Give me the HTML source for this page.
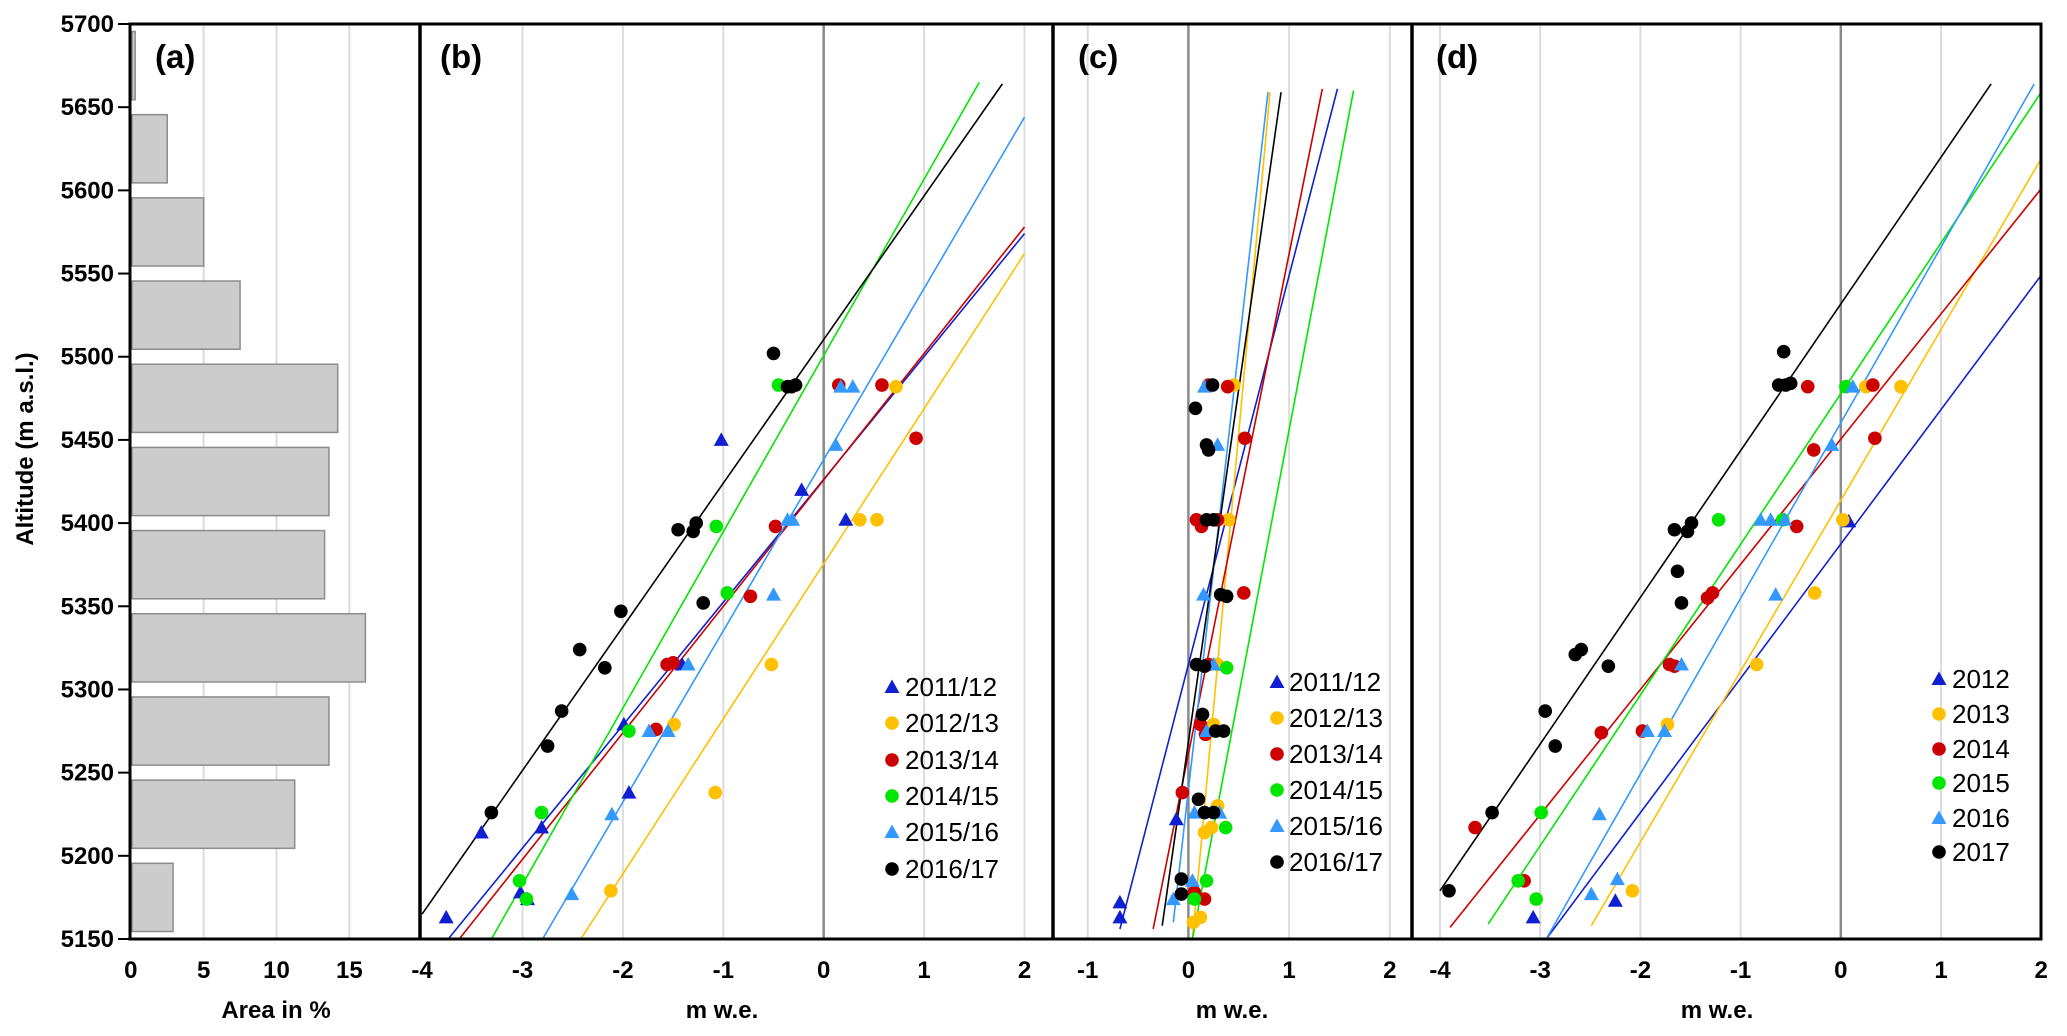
<!DOCTYPE html>
<html><head><meta charset="utf-8">
<style>
html,body{margin:0;padding:0;background:#fff;}
svg{display:block;font-family:"Liberation Sans",Arial,sans-serif;}
</style></head>
<body>
<svg id="chart" width="2067" height="1036" viewBox="0 0 2067 1036" xmlns="http://www.w3.org/2000/svg"></svg>
<script>
// ---------- DATA ----------
const altTicks = [5150,5200,5250,5300,5350,5400,5450,5500,5550,5600,5650,5700];
const areaBandBase = [5150,5200,5250,5300,5350,5400,5450,5500,5550,5600,5650];
const areaPct = [2.9,11.25,13.6,16.1,13.3,13.6,14.2,7.5,5.0,2.5,0.3];
const areaTicks = [0,5,10,15];
const bTicks = [-4,-3,-2,-1,0,1,2];
const cTicks = [-1,0,1,2];
const dTicks = [-4,-3,-2,-1,0,1,2];
const seriesNamesBC = ["2011/12","2012/13","2013/14","2014/15","2015/16","2016/17"];
const seriesNamesD = ["2012","2013","2014","2015","2016","2017"];

// panel (b) points [m w.e., altitude]
const b_s1 = [[-3.76,5163],[-3.41,5214],[-2.81,5217],[-3.02,5178],[-2.95,5174],[-1.99,5279],[-1.94,5238],[-1.41,5315],[-1.02,5450],[-0.22,5420],[0.22,5402]];
const b_s2 = [[-2.12,5179],[-1.49,5279],[-0.52,5315],[-1.08,5238],[0.36,5402],[0.53,5402],[0.72,5482]];
const b_s3 = [[-1.56,5315],[-1.50,5316],[-1.67,5276],[-0.73,5356],[-0.48,5398],[0.15,5483],[0.58,5483],[0.92,5451]];
const b_s4 = [[-2.81,5226],[-3.03,5185],[-2.96,5174],[-1.94,5275],[-1.07,5398],[-0.96,5358],[-0.45,5483]];
const b_s5 = [[-2.51,5177],[-2.11,5225],[-1.74,5275],[-1.55,5275],[-1.35,5315],[-0.50,5357],[-0.36,5402],[-0.31,5402],[0.12,5447],[0.17,5482],[0.29,5482]];
const b_s6 = [[-3.31,5226],[-2.75,5266],[-2.61,5287],[-2.43,5324],[-2.18,5313],[-2.02,5347],[-1.45,5396],[-1.30,5395],[-1.27,5400],[-1.20,5352],[-0.50,5502],[-0.36,5482],[-0.32,5482],[-0.28,5483]];
// trend lines [x1,alt1,x2,alt2]
const b_lines = [[-3.74,5150,2.0,5574],[-2.42,5150,2.0,5562],[-3.63,5150,2.0,5578],[-3.31,5150,1.55,5665],[-2.80,5150,2.0,5644],[-4.0,5165,1.78,5664]];

// panel (c)
const c_s1 = [[-0.68,5172],[-0.68,5163],[-0.12,5222]];
const c_s2 = [[0.45,5483],[0.40,5402],[0.29,5315],[0.25,5279],[0.29,5230],[0.16,5214],[0.23,5217],[0.05,5160],[0.12,5163]];
const c_s3 = [[0.20,5483],[0.39,5482],[0.56,5451],[0.08,5402],[0.13,5398],[0.29,5402],[0.55,5358],[0.20,5315],[0.12,5279],[0.17,5273],[-0.06,5238],[0.16,5174],[0.06,5178]];
const c_s4 = [[0.38,5313],[0.37,5217],[0.18,5185],[0.06,5174]];
const c_s5 = [[0.16,5482],[0.29,5447],[0.15,5357],[0.25,5315],[0.18,5275],[0.06,5226],[0.31,5226],[0.04,5185],[-0.15,5174]];
const c_s6 = [[0.24,5483],[0.07,5469],[0.18,5447],[0.20,5444],[0.18,5402],[0.25,5402],[0.32,5357],[0.38,5356],[0.08,5315],[0.16,5314],[0.14,5285],[0.27,5275],[0.35,5275],[0.10,5234],[0.16,5226],[0.25,5226],[-0.07,5186],[-0.07,5177]];
const c_lines = [[-0.68,5156,1.48,5661],[0.04,5150,0.81,5659],[-0.35,5156,1.33,5661],[0.04,5150,1.64,5660],[-0.15,5160,0.79,5659],[-0.26,5158,0.92,5659]];

// panel (d)
const d_s1 = [[-3.07,5163],[-2.25,5173],[0.08,5401]];
const d_s2 = [[-2.08,5179],[-1.73,5279],[-0.84,5315],[-0.26,5358],[0.02,5402],[0.25,5482],[0.60,5482]];
const d_s3 = [[-3.65,5217],[-3.16,5185],[-2.39,5274],[-1.98,5275],[-1.71,5315],[-1.66,5314],[-1.33,5355],[-1.28,5358],[-0.44,5398],[-0.27,5444],[-0.33,5482],[0.32,5483],[0.34,5451]];
const d_s4 = [[-2.99,5226],[-3.22,5185],[-3.04,5174],[-1.22,5402],[-0.58,5402],[0.05,5482]];
const d_s5 = [[-2.49,5177],[-2.41,5225],[-2.23,5186],[-1.93,5275],[-1.76,5275],[-1.59,5315],[-0.65,5357],[-0.80,5402],[-0.70,5402],[-0.56,5402],[-0.09,5447],[0.12,5482]];
const d_s6 = [[-3.91,5179],[-3.48,5226],[-2.95,5287],[-2.85,5266],[-2.65,5321],[-2.59,5324],[-2.32,5314],[-1.66,5396],[-1.53,5395],[-1.49,5400],[-1.63,5371],[-1.59,5352],[-0.62,5483],[-0.55,5483],[-0.50,5484],[-0.57,5503]];
const d_lines = [[-2.94,5150,2.0,5549],[-2.49,5158,2.0,5619],[-3.90,5157,2.0,5601],[-3.52,5159,2.0,5659],[-2.94,5150,1.93,5664],[-4.0,5179,1.50,5664]];

// ---------- RENDER ----------
const NS = "http://www.w3.org/2000/svg";
const svg = document.getElementById('chart');
const colors = ["#1020d0","#ffc000","#cc0000","#00e600","#3399ff","#000000"];
const shapes = ["tri","circ","circ","circ","tri","circ"];
const TOP = 24, BOT = 939;
function yS(alt){ return TOP + (5700 - alt) * (BOT - TOP) / 550; }
function mk(tag, attrs, parent){ const e = document.createElementNS(NS, tag); for (const k in attrs) e.setAttribute(k, attrs[k]); (parent||svg).appendChild(e); return e; }
function xA(v){ return 130.8 + v * 14.57; }
function xB(v){ return 823.7 + v * 100.4; }
function xC(v){ return 1188.4 + v * 100.7; }
function xD(v){ return 1840.8 + v * 100.2; }

// gridlines
function grid(ticks, xf, name){
  ticks.forEach(t => {
    const x = xf(t);
    const l = mk('line', {x1:x, x2:x, y1:TOP, y2:BOT, stroke: t===0 && name!=='a' ? '#8a8a8a' : '#dcdcdc', 'stroke-width': t===0 && name!=='a' ? 2.5 : 2});
    
    
  });
}
grid([5,10,15], xA, 'a');
grid(bTicks.filter(t=>t>-4), xB, 'b');
grid(cTicks, xC, 'c');
grid(dTicks.filter(t=>t<2), xD, 'd');

// bars panel a
const bandPx = (BOT-TOP)/11;
areaBandBase.forEach((base,i) => {
  const y1 = yS(base + 45.5), y2 = yS(base + 4.5);
  const r = mk('rect', {x:132, y:y1, width: xA(areaPct[i]) - 132, height: y2-y1, fill:'#cccccc', stroke:'#8c8c8c', 'stroke-width':1.5});
  
  
});

// clip paths
const defs = mk('defs', {});
[['clipB',420,1053],['clipC',1053,1412],['clipD',1412,2041]].forEach(c => {
  const cp = mk('clipPath', {id:c[0]}, defs);
  mk('rect', {x:c[1], y:TOP, width:c[2]-c[1], height:BOT-TOP}, cp);
});

function marker(g, shape, x, y, col){
  let e;
  if (shape === 'tri') e = mk('polygon', {points: `${x},${y-7.5} ${x-7.5},${y+6} ${x+7.5},${y+6}`, fill: col}, g);
  else e = mk('circle', {cx:x, cy:y, r:6.8, fill: col}, g);
  return e;
}
function drawPanel(key, xf, seriesList, lines, clip){
  const g = mk('g', {'clip-path': `url(#${clip})`});
  
  
  lines.forEach((ln,i) => {
    const l = mk('line', {x1:xf(ln[0]), y1:yS(ln[1]), x2:xf(ln[2]), y2:yS(ln[3]), stroke:colors[i], 'stroke-width':1.6}, g);
    
    
  });
  seriesList.forEach((pts,i) => {
    pts.forEach(p => {
      const m = marker(g, shapes[i], xf(p[0]), yS(p[1]), colors[i]);
      
      
    });
  });
}
drawPanel('b', xB, [b_s1,b_s2,b_s3,b_s4,b_s5,b_s6], b_lines, 'clipB');
drawPanel('c', xC, [c_s1,c_s2,c_s3,c_s4,c_s5,c_s6], c_lines, 'clipC');
drawPanel('d', xD, [d_s1,d_s2,d_s3,d_s4,d_s5,d_s6], d_lines, 'clipD');

// frame
const fr = mk('rect', {x:130, y:TOP, width:2041-130, height:BOT-TOP, fill:'none', stroke:'#000', 'stroke-width':3});


[420,1053,1412].forEach(x => {
  const l = mk('line', {x1:x, x2:x, y1:TOP, y2:BOT, stroke:'#000', 'stroke-width':3.5});
  
  
});

// y axis ticks
altTicks.forEach(a => {
  const y = yS(a);
  const t = mk('line', {x1:118, x2:130, y1:y, y2:y, stroke:'#000', 'stroke-width':2});
  
  
  const tx = mk('text', {x:114, y:y+8, 'text-anchor':'end', 'font-size':24, 'font-weight':'bold'});
  tx.textContent = a;
  
  
});
// x tick labels
function xLabels(ticks, xf, key){
  ticks.forEach(t => {
    const tx = mk('text', {x:xf(t), y:978, 'text-anchor':'middle', 'font-size':24, 'font-weight':'bold'});
    tx.textContent = t;
    
    
  });
}
xLabels(areaTicks, xA, 'a');
xLabels(bTicks, xB, 'b');
xLabels(cTicks, xC, 'c');
xLabels(dTicks, xD, 'd');

// axis titles
function title(txt, x, y, name, rot){
  const t = mk('text', {x:x, y:y, 'text-anchor':'middle', 'font-size':24, 'font-weight':'bold'});
  if (rot) t.setAttribute('transform', `rotate(-90 ${x} ${y})`);
  t.textContent = txt;
  
  
}
title('Area in %', 276, 1018, 'x-axis-title-a');
title('m w.e.', 722, 1018, 'x-axis-title-b');
title('m w.e.', 1232, 1018, 'x-axis-title-c');
title('m w.e.', 1717, 1018, 'x-axis-title-d');
title('Altitude (m a.s.l.)', 33, 449, 'y-axis-title', true);

// panel labels
[['(a)',155],['(b)',440],['(c)',1078],['(d)',1436]].forEach(p => {
  const t = mk('text', {x:p[1], y:68, 'font-size':33, 'font-weight':'bold'});
  t.textContent = p[0];
  
  
});

// legends
function legend(names, mx, tx, ys, key){
  names.forEach((n,i) => {
    const m = marker(svg, shapes[i], mx, ys[i], colors[i]);
    
    
    const t = mk('text', {x:tx, y:ys[i]+9, 'font-size':26});
    t.textContent = n;
    
    
  });
}
legend(seriesNamesBC, 892, 905, [687,723,760,796,832,869], 'b');
legend(seriesNamesBC, 1277, 1289, [682,718,754,790,826,862], 'c');
legend(seriesNamesD, 1939, 1952, [679,714,749,783,818,852], 'd');
</script>
</body></html>
